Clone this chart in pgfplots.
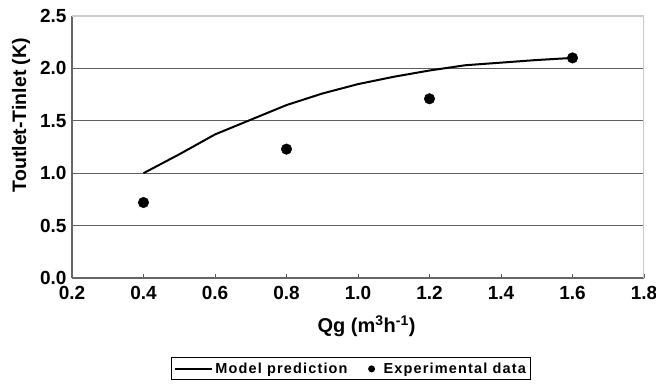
\documentclass[border=0pt]{standalone}
\usepackage{pgfplots}
\pgfplotsset{compat=1.18}
\usepackage{fontspec}
\setmainfont{Liberation Sans}
\newfontfamily\legfont[LetterSpace=8]{Liberation Sans}
\begin{document}
\begin{tikzpicture}
\begin{axis}[
  scale only axis, width=572pt, height=262pt,
  xmin=0.2, xmax=1.8, ymin=0, ymax=2.5,
  xtick={0.2,0.4,0.6,0.8,1.0,1.2,1.4,1.6,1.8},
  ytick={0,0.5,1.0,1.5,2.0,2.5},
  /pgf/number format/.cd, fixed, fixed zerofill, precision=1, assume math mode=true,
  /pgfplots/.cd,
  axis x line*=bottom, axis y line*=left,
  axis line style={draw=gray!80!black, line width=1.2pt, -},
  xtick align=inside, major tick length=4pt,
  xtick style={draw=gray!70!black, line width=1pt},
  ytick style={draw=none},
  ymajorgrids, grid style={gray!75!black, line width=1.1pt},
  ticklabel style={font=\fontsize{19}{22}\selectfont\bfseries},
  xticklabel style={yshift=-5pt},
  yticklabel style={xshift=-2pt},
  xlabel={Qg (m\textsuperscript{3}h\textsuperscript{-1})},
  ylabel={Toutlet-Tinlet (K)},
  xlabel style={font=\fontsize{20}{23}\selectfont\bfseries, at={(rel axis cs:0.515,-0.185)}, anchor=center},
  ylabel style={font=\fontsize{19.5}{22}\selectfont\bfseries, at={(rel axis cs:-0.089,0.622)}, anchor=center},
  legend columns=2,
  legend style={at={(rel axis cs:0.488,-0.347)}, anchor=center, draw=black, line width=1pt,
    font=\legfont\bfseries\fontsize{14.5}{17}\selectfont, inner xsep=3pt, inner ysep=3pt,
    /tikz/every even column/.append style={column sep=12pt}},
]
\addplot[black, line width=2pt, mark=none,
  legend image code/.code={\draw[black, line width=2pt] (0pt,0pt) -- (37pt,0pt);}]
  coordinates {
  (0.4,1.00) (0.5,1.18) (0.6,1.37) (0.7,1.51) (0.8,1.65) (0.9,1.76)
  (1.0,1.85) (1.1,1.92) (1.2,1.98) (1.3,2.03) (1.4,2.055) (1.5,2.08) (1.6,2.10)
  };
\addlegendentry{Model prediction}
\addplot[only marks, mark=*, mark size=5.3pt, black,
  legend image code/.code={\fill[black, draw=none] (10pt,0pt) circle (3.5pt); \path[draw=none] (0pt,0pt) -- (20pt,0pt);}]
  coordinates {
  (0.4,0.72) (0.8,1.23) (1.2,1.71) (1.6,2.10)
  };
\addlegendentry{Experimental data}
\draw[gray!40, line width=1.2pt] (rel axis cs:0,1) -- (rel axis cs:1,1) -- (rel axis cs:1,0);
\end{axis}
\pgfresetboundingbox
\useasboundingbox (-72pt,-109pt) rectangle (584pt,278pt);
\end{tikzpicture}
\end{document}
